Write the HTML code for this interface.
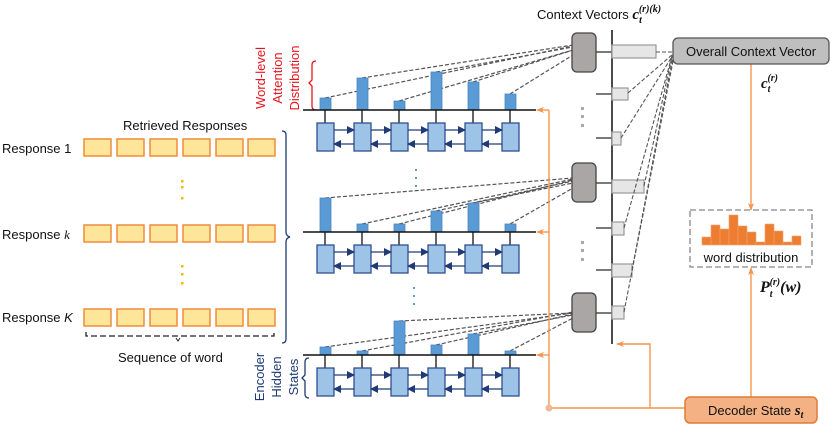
<!DOCTYPE html>
<html><head><meta charset="utf-8"><style>
body{margin:0;background:#fff;width:830px;height:424px;overflow:hidden}
svg{display:block;font-family:"Liberation Sans",sans-serif}
</style></head><body>
<svg width="830" height="424" viewBox="0 0 830 424" xmlns="http://www.w3.org/2000/svg">
<defs>
<marker id="ab" markerWidth="8" markerHeight="8" refX="7" refY="4" orient="auto" markerUnits="userSpaceOnUse"><path d="M0,0 L8,4 L0,8 z" fill="#1f3a75"/></marker>
<marker id="ao" markerWidth="8" markerHeight="8" refX="7" refY="4" orient="auto" markerUnits="userSpaceOnUse"><path d="M0,1 L8,4 L0,7 L2,4 z" fill="#f4964f"/></marker>
</defs>

<g font-size="13" fill="#111">
<text x="123" y="130">Retrieved Responses</text>
<text x="2" y="153">Response 1</text>
<text x="2" y="239">Response <tspan font-style="italic" font-family="Liberation Serif">k</tspan></text>
<text x="2" y="322">Response <tspan font-style="italic">K</tspan></text>
<text x="118" y="362">Sequence of word</text>
</g>
<g fill="#fde69a" stroke="#f08c3c" stroke-width="1.5">
<rect x="84" y="139" width="27" height="17"/><rect x="117" y="139" width="27" height="17"/><rect x="150" y="139" width="27" height="17"/><rect x="183" y="139" width="27" height="17"/><rect x="216" y="139" width="27" height="17"/><rect x="248" y="139" width="27" height="17"/>
<rect x="84" y="225" width="27" height="17"/><rect x="117" y="225" width="27" height="17"/><rect x="150" y="225" width="27" height="17"/><rect x="183" y="225" width="27" height="17"/><rect x="216" y="225" width="27" height="17"/><rect x="248" y="225" width="27" height="17"/>
<rect x="84" y="309" width="27" height="17"/><rect x="117" y="309" width="27" height="17"/><rect x="150" y="309" width="27" height="17"/><rect x="183" y="309" width="27" height="17"/><rect x="216" y="309" width="27" height="17"/><rect x="248" y="309" width="27" height="17"/>
</g>
<g fill="#f5b800"><rect x="181" y="180" width="2.5" height="2.5"/><rect x="181" y="186" width="2.5" height="2.5"/><rect x="181" y="197" width="2.5" height="2.5"/>
<rect x="181" y="265" width="2.5" height="2.5"/><rect x="181" y="273" width="2.5" height="2.5"/><rect x="181" y="282" width="2.5" height="2.5"/></g>
<path d="M86,332 v4 h188 v-4" fill="none" stroke="#222" stroke-width="1.3" stroke-dasharray="6,3"/>
<path d="M176,338 l2,3 l2,-3" fill="none" stroke="#222"/>
<path d="M282,131 q4,0 4,4 v97 q0,4 4,5 q-4,1 -4,5 v97 q0,4 -4,4" fill="none" stroke="#1f3a75" stroke-width="1.3"/>

<g font-size="13" fill="#e8141c" text-anchor="middle">
<text transform="translate(265,78) rotate(-90)">Word-level</text>
<text transform="translate(282,78) rotate(-90)">Attention</text>
<text transform="translate(299,78) rotate(-90)">Distribution</text>
</g>
<path d="M316,61 q-4,0 -4,4 v15 l-3,3 l3,3 v20 q0,4 4,4" fill="none" stroke="#e8141c" stroke-width="1.3"/>
<g font-size="13" fill="#1f3a75" text-anchor="middle">
<text transform="translate(264,377) rotate(-90)">Encoder</text>
<text transform="translate(281,377) rotate(-90)">Hidden</text>
<text transform="translate(298,377) rotate(-90)">States</text>
</g>
<path d="M309,358 q-4,0 -4,4 v13 l-3,3 l3,3 v13 q0,4 4,4" fill="none" stroke="#1f3a75" stroke-width="1.3"/>

<g stroke="#555" stroke-width="1.2" stroke-dasharray="4,2" fill="none">
<line x1="325" y1="98" x2="573" y2="46"/><line x1="362" y1="78" x2="573" y2="45"/><line x1="399" y1="101" x2="573" y2="50"/><line x1="436" y1="72" x2="573" y2="47"/><line x1="473" y1="82" x2="573" y2="50"/><line x1="510" y1="94" x2="573" y2="55"/>
<line x1="325" y1="198" x2="573" y2="178"/><line x1="362" y1="224" x2="573" y2="179"/><line x1="399" y1="224" x2="573" y2="180"/><line x1="436" y1="211" x2="573" y2="181"/><line x1="473" y1="203" x2="573" y2="183"/><line x1="510" y1="224" x2="573" y2="188"/>
<line x1="325" y1="347" x2="573" y2="313"/><line x1="362" y1="351" x2="573" y2="312"/><line x1="399" y1="321" x2="573" y2="313"/><line x1="436" y1="345" x2="573" y2="314"/><line x1="473" y1="334" x2="573" y2="315"/><line x1="510" y1="351" x2="573" y2="318"/>
</g>
<g fill="#5b9bd5" stroke="#4a86c0" stroke-width="0.8">
<rect x="320" y="98" width="11" height="12"/><rect x="357" y="78" width="11" height="32"/><rect x="394" y="101" width="11" height="9"/><rect x="431" y="72" width="11" height="38"/><rect x="468" y="82" width="11" height="28"/><rect x="505" y="94" width="11" height="16"/>
<rect x="320" y="198" width="11" height="34"/><rect x="357" y="224" width="11" height="8"/><rect x="394" y="224" width="11" height="8"/><rect x="431" y="211" width="11" height="21"/><rect x="468" y="203" width="11" height="29"/><rect x="505" y="224" width="11" height="8"/>
<rect x="320" y="347" width="11" height="8"/><rect x="357" y="351" width="11" height="4"/><rect x="394" y="321" width="11" height="34"/><rect x="431" y="345" width="11" height="10"/><rect x="468" y="334" width="11" height="21"/><rect x="505" y="351" width="11" height="4"/>
</g>

<g id="enc">
<line x1="303" y1="110" x2="536" y2="110" stroke="#111" stroke-width="1.5"/>
<g stroke="#111" stroke-width="1.3"><line x1="325" y1="110" x2="325" y2="123"/><line x1="362" y1="110" x2="362" y2="123"/><line x1="399" y1="110" x2="399" y2="123"/><line x1="436" y1="110" x2="436" y2="123"/><line x1="473" y1="110" x2="473" y2="123"/><line x1="510" y1="110" x2="510" y2="123"/></g>
<g fill="#9dc3e6" stroke="#2f4f8f" stroke-width="1.3">
<rect x="317" y="123" width="17" height="28"/><rect x="354" y="123" width="17" height="28"/><rect x="391" y="123" width="17" height="28"/><rect x="428" y="123" width="17" height="28"/><rect x="465" y="123" width="17" height="28"/><rect x="502" y="123" width="17" height="28"/>
</g>
<g stroke="#1f3a75" stroke-width="1.3" marker-end="url(#ab)">
<line x1="334" y1="130" x2="354" y2="130"/><line x1="371" y1="130" x2="391" y2="130"/><line x1="408" y1="130" x2="428" y2="130"/><line x1="445" y1="130" x2="465" y2="130"/><line x1="482" y1="130" x2="502" y2="130"/>
<line x1="354" y1="144" x2="334" y2="144"/><line x1="391" y1="144" x2="371" y2="144"/><line x1="428" y1="144" x2="408" y2="144"/><line x1="465" y1="144" x2="445" y2="144"/><line x1="502" y1="144" x2="482" y2="144"/>
</g>
</g>
<use href="#enc" transform="translate(0,122)"/>
<use href="#enc" transform="translate(0,245)"/>

<g fill="#5b9bd5"><rect x="415" y="169" width="2" height="2"/><rect x="415" y="177" width="2" height="2"/><rect x="415" y="185" width="2" height="2"/>
<rect x="413" y="287" width="2" height="2"/><rect x="413" y="295" width="2" height="2"/><rect x="413" y="303" width="2" height="2"/></g>

<g stroke="#f4964f" stroke-width="1.4" fill="none">
<path d="M549,110 V408 H685"/>
<line x1="549" y1="110" x2="537" y2="110" marker-end="url(#ao)"/>
<line x1="549" y1="232" x2="537" y2="232" marker-end="url(#ao)"/>
<line x1="549" y1="355" x2="537" y2="355" marker-end="url(#ao)"/>
<path d="M650,408 V344 H617" marker-end="url(#ao)"/>
<line x1="751" y1="64" x2="751" y2="210" marker-end="url(#ao)"/>
<line x1="751" y1="397" x2="751" y2="268" marker-end="url(#ao)"/>
</g>
<circle cx="549" cy="408" r="3.5" fill="#f0b89a"/>

<line x1="612" y1="30" x2="612" y2="344" stroke="#111" stroke-width="1.5"/>
<g stroke="#333" stroke-width="1.3"><line x1="596" y1="52" x2="612" y2="52"/><line x1="596" y1="183" x2="612" y2="183"/><line x1="596" y1="313" x2="612" y2="313"/>
<line x1="596" y1="94" x2="612" y2="94"/><line x1="596" y1="138" x2="612" y2="138"/><line x1="596" y1="228" x2="612" y2="228"/><line x1="596" y1="270" x2="612" y2="270"/></g>
<g fill="#aaa6a6" stroke="#444" stroke-width="1.3">
<rect x="572" y="33" width="24" height="39" rx="5"/><rect x="572" y="163" width="24" height="39" rx="5"/><rect x="572" y="293" width="24" height="39" rx="5"/>
</g>
<g fill="#e6e6e6" stroke="#999" stroke-width="1.2">
<rect x="612" y="45" width="44" height="13"/><rect x="612" y="88" width="16" height="12"/><rect x="612" y="132" width="9" height="13"/>
<rect x="612" y="180" width="32" height="13"/><rect x="612" y="222" width="12" height="13"/><rect x="612" y="264" width="20" height="13"/><rect x="612" y="306" width="12" height="13"/>
</g>
<g stroke="#555" stroke-width="1.1" stroke-dasharray="4,2" fill="none">
<line x1="656" y1="52" x2="673" y2="52"/><line x1="628" y1="93" x2="673" y2="54"/><line x1="621" y1="138" x2="673" y2="55"/>
<line x1="644" y1="186" x2="672" y2="56"/><line x1="624" y1="228" x2="672" y2="56"/><line x1="632" y1="270" x2="673" y2="56"/><line x1="624" y1="312" x2="674" y2="56"/>
</g>
<g fill="#aaa"><rect x="581" y="107" width="3" height="3"/><rect x="581" y="115" width="3" height="3"/><rect x="581" y="124" width="3" height="3"/>
<rect x="581" y="241" width="3" height="3"/><rect x="581" y="249" width="3" height="3"/><rect x="581" y="258" width="3" height="3"/></g>

<text x="537" y="19" font-size="13" fill="#111">Context Vectors <tspan font-family="Liberation Serif" font-weight="bold" font-style="italic" font-size="15">c</tspan><tspan font-family="Liberation Serif" font-weight="bold" font-style="italic" font-size="10" dy="4">t</tspan><tspan font-family="Liberation Serif" font-weight="bold" font-style="italic" font-size="10" dy="-11" dx="-3">(r)(k)</tspan></text>

<rect x="673" y="38" width="156" height="26" rx="5" fill="#bfbfbf" stroke="#555" stroke-width="1.3"/>
<text x="751" y="56" font-size="13" fill="#111" text-anchor="middle">Overall Context Vector</text>
<text x="761" y="88" font-family="Liberation Serif" font-weight="bold" font-style="italic" font-size="15" fill="#111">c<tspan font-size="10" dy="4">t</tspan><tspan font-size="10" dy="-11" dx="-3">(r)</tspan></text>

<rect x="690" y="210" width="122" height="57" fill="#fff" stroke="#888" stroke-width="1.3" stroke-dasharray="6,3"/>
<g fill="#ed7d31" stroke="#f4a26b" stroke-width="0.6">
<rect x="702" y="237" width="9" height="8"/><rect x="711" y="225" width="9" height="20"/><rect x="720" y="229" width="9" height="16"/><rect x="729" y="215" width="9" height="30"/><rect x="738" y="226" width="9" height="19"/><rect x="747" y="232" width="9" height="13"/><rect x="756" y="242" width="9" height="3"/><rect x="765" y="224" width="9" height="21"/><rect x="774" y="231" width="9" height="14"/><rect x="783" y="242" width="9" height="3"/><rect x="792" y="236" width="9" height="9"/>
</g>
<text x="751" y="262" font-size="13" fill="#111" text-anchor="middle">word distribution</text>
<text x="760" y="292" font-family="Liberation Serif" font-weight="bold" font-style="italic" font-size="16" fill="#111">P<tspan font-size="10" dy="5">t</tspan><tspan font-size="10" dy="-12" dx="-3">(r)</tspan><tspan font-size="16" dy="7">(w)</tspan></text>

<rect x="685" y="397" width="132" height="26" rx="5" fill="#f4b183" stroke="#e07b39" stroke-width="1.5"/>
<text x="708" y="415" font-size="13" fill="#111">Decoder State <tspan font-family="Liberation Serif" font-weight="bold" font-style="italic" font-size="15">s</tspan><tspan font-family="Liberation Serif" font-weight="bold" font-style="italic" font-size="10" dy="3">t</tspan></text>
</svg>
</body></html>
